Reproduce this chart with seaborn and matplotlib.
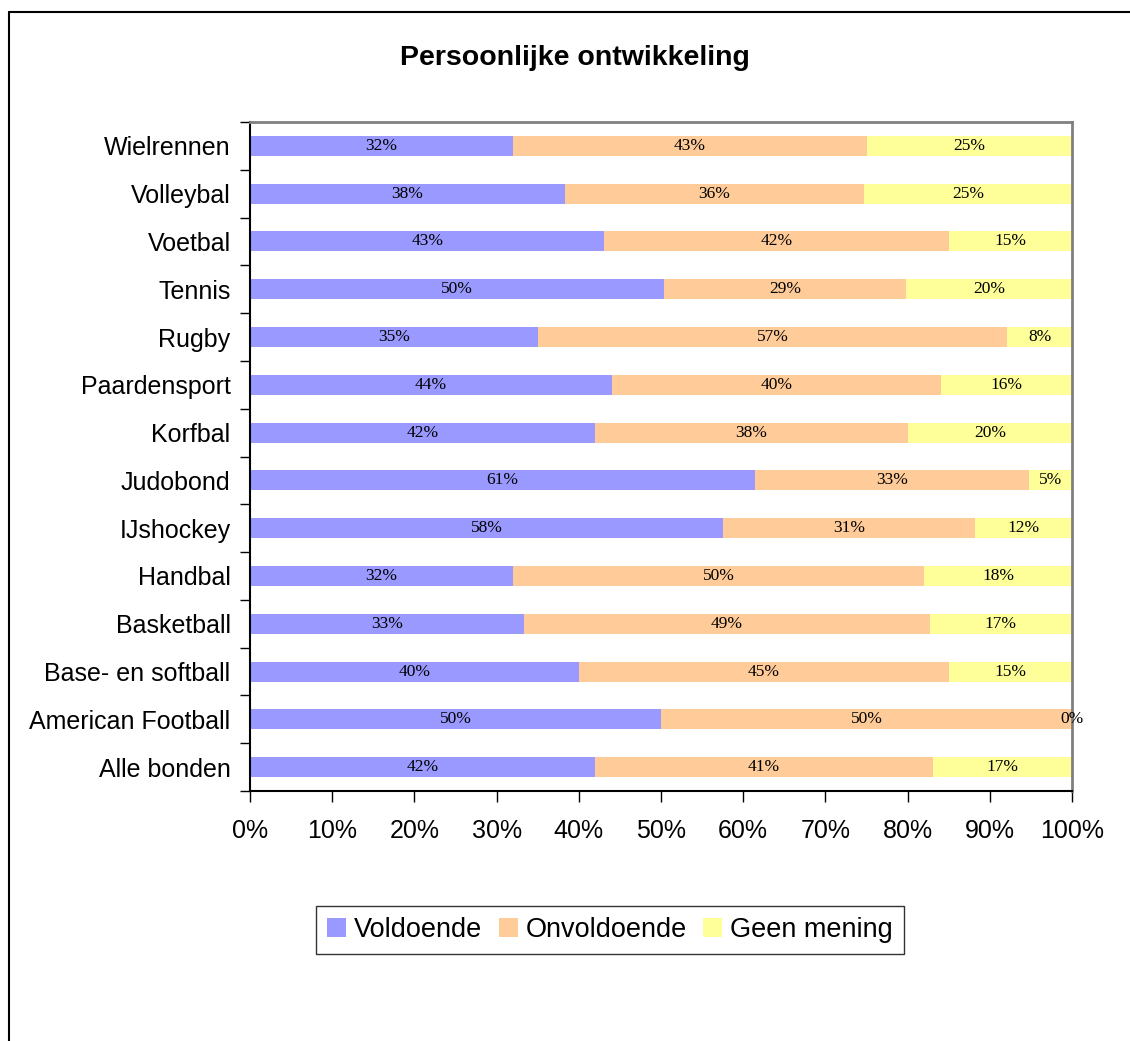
import matplotlib
matplotlib.use("Agg")
import matplotlib.pyplot as plt
from matplotlib.lines import Line2D
from matplotlib.patches import Patch
import seaborn as sns
import numpy as np
import pandas as pd

# data (top to bottom as shown)
sports = ["Wielrennen", "Volleybal", "Voetbal", "Tennis", "Rugby", "Paardensport",
          "Korfbal", "Judobond", "IJshockey", "Handbal", "Basketball",
          "Base- en softball", "American Football", "Alle bonden"]
voldoende = [32.0, 38.3, 43.1, 50.4, 35.0, 44.0, 42.0, 61.4, 57.6, 32.0, 33.3, 40.0, 50.0, 42.0]
onvoldoende = [43.0, 36.4, 41.9, 29.4, 57.1, 40.1, 38.0, 33.4, 30.6, 50.0, 49.4, 45.0, 50.0, 41.1]
geen_mening = [25.0, 25.3, 15.0, 20.2, 7.9, 15.9, 20.0, 5.2, 11.8, 18.0, 17.3, 15.0, 0.0, 16.9]
series_names = ["Voldoende", "Onvoldoende", "Geen mening"]
colors = ["#9999FF", "#FFCC99", "#FFFF99"]

df = pd.DataFrame({"sport": sports, "v": voldoende, "o": onvoldoende, "g": geen_mening})
df["c1"] = df["v"]
df["c2"] = df["v"] + df["o"]
df["c3"] = df["c2"] + df["g"]

sns.set_style("white")
plt.rcParams["font.family"] = ["Liberation Sans", "DejaVu Sans"]
plt.rcParams["text.color"] = "black"
plt.rcParams["xtick.color"] = "black"
plt.rcParams["ytick.color"] = "black"

fig = plt.figure(figsize=(11.3, 10.41), dpi=100)
ax = fig.add_axes([250 / 1130, 1 - 791 / 1041, (1072 - 250) / 1130, (791 - 122) / 1041])

# stacked bars drawn as cumulative layers
for col, color in zip(["c3", "c2", "c1"], colors[::-1]):
    sns.barplot(data=df, x=col, y="sport", order=sports, orient="h", color=color,
                saturation=1, width=0.42, linewidth=0, ax=ax)

# segment labels
for i, row in df.iterrows():
    starts = [0, row["c1"], row["c2"]]
    for start, val in zip(starts, [row["v"], row["o"], row["g"]]):
        ax.text(start + val / 2, i, f"{val:.0f}%", ha="center", va="center",
                fontsize=12.5, family=["Liberation Serif", "DejaVu Serif"], color="black")

ax.set_xlim(0, 100)
ax.set_ylim(len(sports) - 0.5, -0.5)
ax.set_xticks(np.arange(0, 101, 10))
ax.set_xticklabels([f"{t}%" for t in range(0, 101, 10)], fontsize=18)
ax.set_yticklabels(sports, fontsize=18)
ax.set_xlabel("")
ax.set_ylabel("")
ax.tick_params(axis="y", which="major", length=0, pad=14)
ax.set_yticks(np.arange(-0.5, len(sports), 1), minor=True)
ax.tick_params(axis="y", which="minor", length=7, width=1, direction="out", color="black", left=True)
ax.tick_params(axis="x", which="major", length=8, width=1, direction="out", color="black", pad=12, bottom=True)

for side in ["left", "bottom"]:
    ax.spines[side].set_color("black")
    ax.spines[side].set_linewidth(1.5)
for side in ["top", "right"]:
    ax.spines[side].set_color("#808080")
    ax.spines[side].set_linewidth(2)

fig.text(575 / 1130, 1 - 58 / 1041, "Persoonlijke ontwikkeling", ha="center", va="center",
         fontsize=20.5, fontweight="bold")

handles = [Patch(facecolor=c, edgecolor="none", label=n) for c, n in zip(colors, series_names)]
leg = fig.legend(handles=handles, loc="center", bbox_to_anchor=(610 / 1130, 1 - 930 / 1041),
                 ncol=3, fontsize=19.5, frameon=True, fancybox=False, handlelength=0.7,
                 handleheight=0.7, handletextpad=0.3, columnspacing=0.6, borderpad=0.4,
                 borderaxespad=0)
leg.get_frame().set_edgecolor("black")
leg.get_frame().set_linewidth(1)

# outer chart border (right and bottom edges cut off)
x0, yt = 9 / 1130, 1 - 12 / 1041
for xs, ys in [([x0, 1], [yt, yt]), ([x0, x0], [yt, 0])]:
    fig.add_artist(Line2D(xs, ys, color="black", linewidth=1.5, transform=fig.transFigure))

fig.savefig("out.png", dpi=100)
